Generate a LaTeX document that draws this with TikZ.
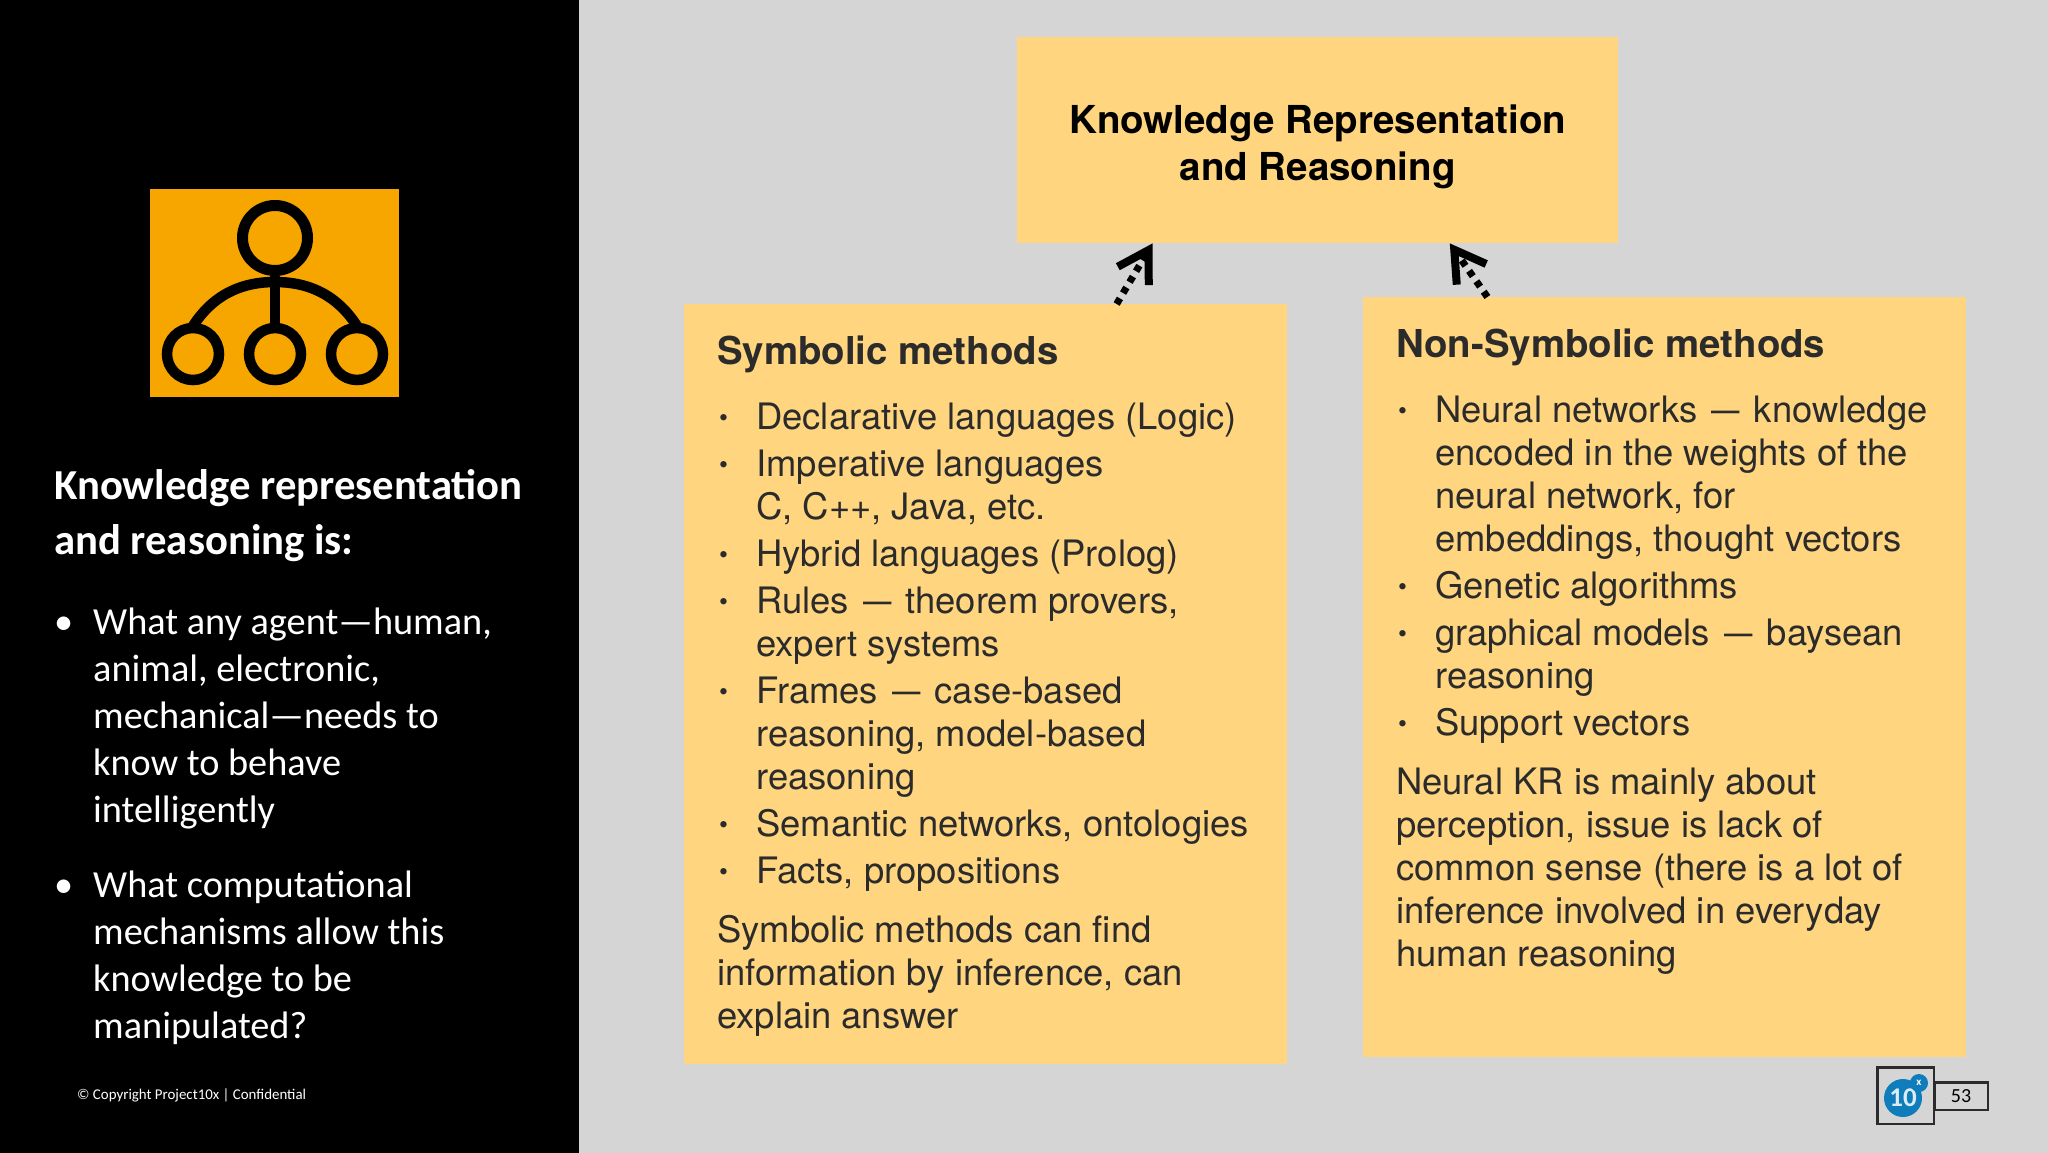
\documentclass[tikz,border=0pt]{standalone}
\usepackage{fontspec}
\setmainfont{TeX Gyre Heros}
\newfontfamily\slidefont{Carlito}
\usetikzlibrary{arrows.meta}

\definecolor{slidegray}{HTML}{D5D5D5}
\definecolor{panelyellow}{HTML}{FFD57F}
\definecolor{iconorange}{HTML}{F7A600}
\definecolor{inkdark}{HTML}{2B2B2B}
\definecolor{logoblue}{HTML}{0F7DBB}

% one list entry, hanging behind its bullet
\newcommand{\kritem}[1]{\par\noindent\hangindent=39pt\hbox to 39pt{\hskip2pt\raisebox{.18ex}{\scalebox{.7}{\textbullet}}\hfil}#1}
\newcommand{\sideitem}[1]{\par\noindent\hangindent=39pt\hbox to 39pt{\textbullet\hfil}#1}
\newcommand{\krdash}{\hskip 4pt\scalebox{.78}[1]{---}\hskip 4pt}

\tikzset{
	panel/.style={fill=panelyellow, anchor=north west, inner sep=0pt, minimum width=603pt, text=inkdark},
	iconline/.style={line width=#1, draw=black},
	hint/.style={line width=7pt, dash pattern=on 6.5pt off 6.2pt, -{Straight Barb[length=30pt,width=36pt,line width=8pt]}},
}

\begin{document}
\begin{tikzpicture}[x=1pt,y=-1pt]

	% ---- page

	\useasboundingbox (0,0) rectangle (2048,1153);
	\fill[slidegray] (0,0) rectangle (2048,1153);
	\node[fill=black, anchor=north west, inner sep=0pt, minimum width=579pt, minimum height=1153pt] (side) at (0,0) {};

	% ---- icon

	\node[fill=iconorange, anchor=north west, inner sep=0pt, minimum width=249pt, minimum height=208pt] (icon) at (150,189) {};
	\draw[iconline=11pt] (275,238) circle (32.5);
	\foreach \x in {193,275,357} { \draw[iconline=10.5pt] (\x,354) circle (26); }
	\draw[iconline=10.5pt] (275,276) -- (275,325);
	\draw[iconline=10.5pt] (193,326) .. controls (215,292) and (245,282) .. (275,282)
		.. controls (305,282) and (335,292) .. (357,326);

	% ---- side text

	\node[anchor=north west, inner sep=0pt, text=white, align=left, font=\slidefont\fontsize{42.7}{55.5}\selectfont\bfseries] (sidetitle) at (54,469)
		{Knowledge representation\\and reasoning is:};
	\node[anchor=north west, inner sep=0pt, text=white, font=\slidefont\fontsize{38.3}{47}\selectfont] (sidelist) at (54,608) {\parbox[t]{500pt}{%
		\parskip=28pt
		\sideitem{What any agent—human,\\animal, electronic,\\mechanical—needs to\\know to behave\\intelligently}
		\sideitem{What computational\\mechanisms allow this\\knowledge to be\\manipulated?}%
	}};
	\node[anchor=west, inner sep=0pt, text=white, font=\slidefont\fontsize{14.9}{16}\selectfont] (copyright) at (77,1095)
		{\textcopyright{} Copyright Project10x | Confidential};

	% ---- top box

	\node[fill=panelyellow, anchor=north west, inner sep=0pt, minimum width=601pt, minimum height=206pt, font=\fontsize{38.5}{47}\selectfont\bfseries] (kr) at (1017,37)
		{\parbox{560pt}{\centering\vskip 13pt Knowledge Representation\\and Reasoning}};

	% ---- symbolic box

	\node[panel, minimum height=760pt] (symbolic) at (684,304) {\parbox[c][720pt][t]{537pt}{%
		\fontsize{36.4}{43}\selectfont\parskip=4pt
		\vskip 8pt
		\noindent{\fontsize{38.4}{43}\selectfont\bfseries Symbolic methods}\par\vskip 18pt
		\kritem{Declarative languages (Logic)}
		\kritem{Imperative languages\\C, C++, Java, etc.}
		\kritem{Hybrid languages (Prolog)}
		\kritem{Rules \krdash{} theorem provers,\\expert systems}
		\kritem{Frames \krdash{} case-based\\reasoning, model-based\\reasoning}
		\kritem{Semantic networks, ontologies}
		\kritem{Facts, propositions}
		\par\vskip 12pt\noindent Symbolic methods can find\\information by inference, can\\explain answer
	}};

	% ---- non-symbolic box

	\node[panel, minimum height=760pt] (nonsymbolic) at (1363,297) {\parbox[c][720pt][t]{537pt}{%
		\fontsize{36.4}{43}\selectfont\parskip=4pt
		\vskip 8pt
		\noindent{\fontsize{38.4}{43}\selectfont\bfseries Non-Symbolic methods}\par\vskip 18pt
		\kritem{Neural networks \krdash{} knowledge\\encoded in the weights of the\\neural network, for\\embeddings, thought vectors}
		\kritem{Genetic algorithms}
		\kritem{graphical models \krdash{} baysean\\reasoning}
		\kritem{Support vectors}
		\par\vskip 12pt\noindent Neural KR is mainly about\\perception, issue is lack of\\common sense (there is a lot of\\inference involved in everyday\\human reasoning
	}};

	% ---- arrows

	\draw[hint] (symbolic.71) -- (kr.212.5);
	\draw[hint] (nonsymbolic.115.3) -- (kr.322.35);

	% ---- page mark

	\node[draw=inkdark, line width=2.5pt, anchor=north west, inner sep=0pt, minimum width=56.5pt, minimum height=56.5pt] (logo) at (1876,1066) {};
	\node[circle, fill=logoblue, inner sep=0pt, minimum size=38pt, text=white!85!logoblue, font=\slidefont\fontsize{27}{27}\selectfont\bfseries] (ten) at (1903,1098) {10};
	\node[circle, fill=logoblue, inner sep=0pt, minimum size=18pt, text=white, font=\slidefont\fontsize{11}{11}\selectfont\bfseries] (ex) at (1919,1083) {x};
	\node[draw=inkdark, line width=2.5pt, anchor=north west, inner sep=0pt, minimum width=53.5pt, minimum height=27.5pt, font=\slidefont\fontsize{20}{20}\selectfont] (pagenum) at (1933,1081) {53};

\end{tikzpicture}
\end{document}
